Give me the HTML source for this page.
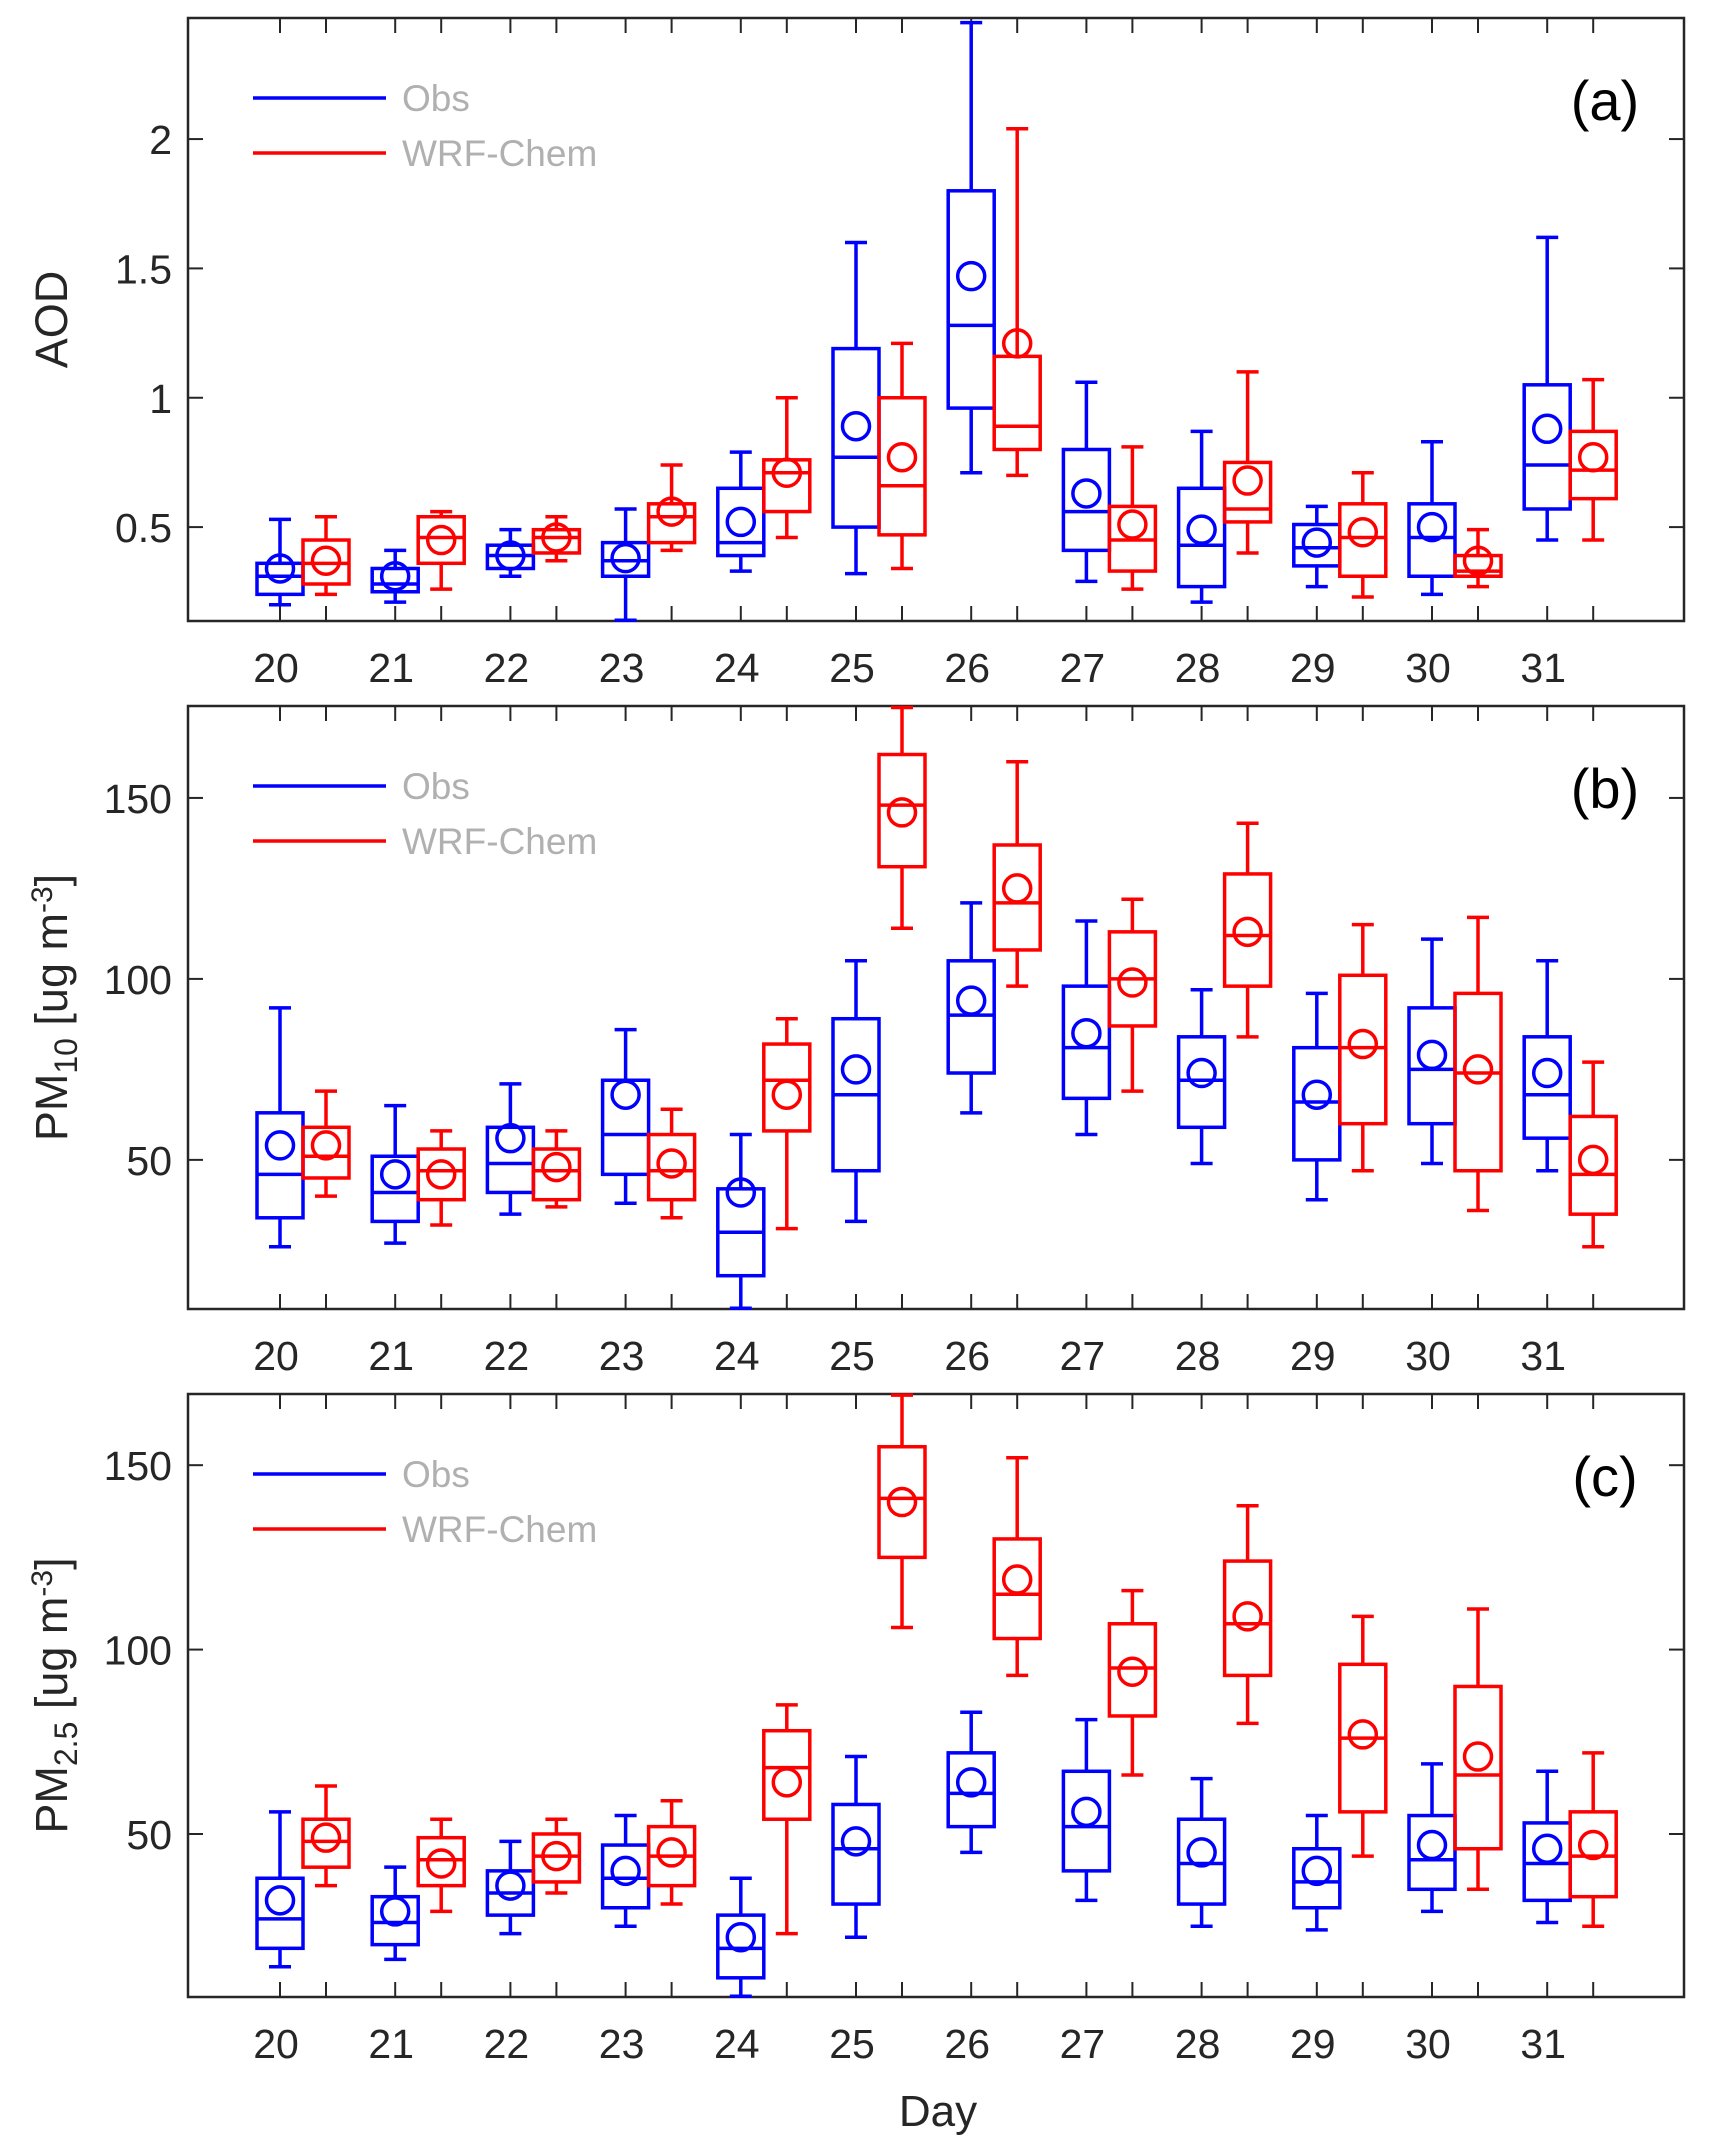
<!DOCTYPE html>
<html><head><meta charset="utf-8"><style>
html,body{margin:0;padding:0;background:#fff;}
svg{display:block;font-family:"Liberation Sans",sans-serif;}
</style></head><body>
<svg id="chart" width="1715" height="2151" viewBox="0 0 1715 2151" xmlns="http://www.w3.org/2000/svg"></svg>
<script>
// Categories
const days = [20,21,22,23,24,25,26,27,28,29,30,31];
// Each entry: [lowWhisker, q1, median, q3, highWhisker, mean]
const aodObs = [[0.2,0.24,0.31,0.36,0.53,0.34],[0.21,0.25,0.28,0.34,0.41,0.31],[0.31,0.34,0.39,0.43,0.49,0.39],[0.14,0.31,0.37,0.44,0.57,0.38],[0.33,0.39,0.44,0.65,0.79,0.52],[0.32,0.5,0.77,1.19,1.6,0.89],[0.71,0.96,1.28,1.8,2.45,1.47],[0.29,0.41,0.56,0.8,1.06,0.63],[0.21,0.27,0.43,0.65,0.87,0.49],[0.27,0.35,0.42,0.51,0.58,0.44],[0.24,0.31,0.46,0.59,0.83,0.5],[0.45,0.57,0.74,1.05,1.62,0.88]];
const aodWrf = [[0.24,0.28,0.36,0.45,0.54,0.37],[0.26,0.36,0.46,0.54,0.56,0.45],[0.37,0.4,0.46,0.49,0.54,0.46],[0.41,0.44,0.54,0.59,0.74,0.56],[0.46,0.56,0.71,0.76,1.0,0.71],[0.34,0.47,0.66,1.0,1.21,0.77],[0.7,0.8,0.89,1.16,2.04,1.21],[0.26,0.33,0.45,0.58,0.81,0.51],[0.4,0.52,0.57,0.75,1.1,0.68],[0.23,0.31,0.46,0.59,0.71,0.48],[0.27,0.31,0.33,0.39,0.49,0.37],[0.45,0.61,0.72,0.87,1.07,0.77]];
const pm10Obs = [[26,34,46,63,92,54],[27,33,41,51,65,46],[35,41,49,59,71,56],[38,46,57,72,86,68],[9,18,30,42,57,41],[33,47,68,89,105,75],[63,74,90,105,121,94],[57,67,81,98,116,85],[49,59,72,84,97,74],[39,50,66,81,96,68],[49,60,75,92,111,79],[47,56,68,84,105,74]];
const pm10Wrf = [[40,45,51,59,69,54],[32,39,47,53,58,46],[37,39,47,53,58,48],[34,39,47,57,64,49],[31,58,72,82,89,68],[114,131,148,162,175,146],[98,108,121,137,160,125],[69,87,100,113,122,99],[84,98,112,129,143,113],[47,60,81,101,115,82],[36,47,74,96,117,75],[26,35,46,62,77,50]];
const pm25Obs = [[14,19,27,38,56,32],[16,20,26,33,41,29],[23,28,34,40,48,36],[25,30,38,47,55,40],[6,11,19,28,38,22],[22,31,46,58,71,48],[45,52,61,72,83,64],[32,40,52,67,81,56],[25,31,42,54,65,45],[24,30,37,46,55,40],[29,35,43,55,69,47],[26,32,42,53,67,46]];
const pm25Wrf = [[36,41,48,54,63,49],[29,36,43,49,54,42],[34,37,44,50,54,44],[31,36,44,52,59,45],[23,54,68,78,85,64],[106,125,141,155,169,140],[93,103,115,130,152,119],[66,82,95,107,116,94],[80,93,107,124,139,109],[44,56,76,96,109,77],[35,46,66,90,111,71],[25,33,44,56,72,47]];
// Tick labels
const aodTicks = [0.5,1,1.5,2];
const aodTickLabels = ["0.5","1","1.5","2"];
const pmTicks = [50,100,150];
const pmTickLabels = ["50","100","150"];

const svg = document.getElementById('chart');
const NS = 'http://www.w3.org/2000/svg';
function mk(tag, attrs, parent){
  const e = document.createElementNS(NS, tag);
  for (const k in attrs) e.setAttribute(k, attrs[k]);
  (parent||svg).appendChild(e);
  return e;
}
const X0 = 188, X1 = 1684;
function xDay(i){ return 280 + i*115.2; }
const OFF = 46;

const panels = [
  {key:'aod', top:18, bot:621, ymin:0.137, ymax:2.468, obs:aodObs, wrf:aodWrf, ticks:aodTicks, tl:aodTickLabels, label:'(a)'},
  {key:'pm10', top:706, bot:1309, ymin:8.8, ymax:175.4, obs:pm10Obs, wrf:pm10Wrf, ticks:pmTicks, tl:pmTickLabels, label:'(b)'},
  {key:'pm25', top:1394, bot:1997, ymin:5.8, ymax:169.3, obs:pm25Obs, wrf:pm25Wrf, ticks:pmTicks, tl:pmTickLabels, label:'(c)'}
];

panels.forEach(p => {
  const g = mk('g', {});
  
  
  const y = v => p.bot - (v - p.ymin) / (p.ymax - p.ymin) * (p.bot - p.top);
  const frame = mk('rect', {x:X0, y:p.top, width:X1-X0, height:p.bot-p.top, fill:'none', stroke:'#262626', 'stroke-width':2.5}, g);
  
  
  p.ticks.forEach((t, i) => {
    const yy = y(t);
    mk('line', {x1:X0, x2:X0+15, y1:yy, y2:yy, stroke:'#262626', 'stroke-width':2}, g);
    mk('line', {x1:X1-15, x2:X1, y1:yy, y2:yy, stroke:'#262626', 'stroke-width':2}, g);
    const tx = mk('text', {x:X0-16, y:yy+15, 'text-anchor':'end', 'font-size':41, fill:'#262626'}, g);
    tx.textContent = p.tl[i];
    
    
  });
  days.forEach((d, i) => {
    [xDay(i), xDay(i)+OFF].forEach(xx => {
      mk('line', {x1:xx, x2:xx, y1:p.top, y2:p.top+15, stroke:'#262626', 'stroke-width':2}, g);
      mk('line', {x1:xx, x2:xx, y1:p.bot-15, y2:p.bot, stroke:'#262626', 'stroke-width':2}, g);
    });
    const tx = mk('text', {x:xDay(i)-4, y:p.bot+61, 'text-anchor':'middle', 'font-size':41, fill:'#262626'}, g);
    tx.textContent = d;
    
    
  });
  function drawBox(arr, i, xc, color, name){
    const [lo, q1, med, q3, hi, mean] = arr;
    const bg = mk('g', {stroke:color, 'stroke-width':3.5, fill:'none'}, g);
    
    
    const hw = 23, cw = 11;
    mk('line', {x1:xc, x2:xc, y1:y(hi), y2:y(q3)}, bg);
    mk('line', {x1:xc, x2:xc, y1:y(q1), y2:y(lo)}, bg);
    mk('line', {x1:xc-cw, x2:xc+cw, y1:y(hi), y2:y(hi)}, bg);
    mk('line', {x1:xc-cw, x2:xc+cw, y1:y(lo), y2:y(lo)}, bg);
    mk('rect', {x:xc-hw, y:y(q3), width:2*hw, height:y(q1)-y(q3)}, bg);
    mk('line', {x1:xc-hw, x2:xc+hw, y1:y(med), y2:y(med)}, bg);
    mk('circle', {cx:xc, cy:y(mean), r:13.5}, bg);
  }
  days.forEach((d, i) => {
    drawBox(p.obs[i], i, xDay(i), '#0000ff', 'obs');
    drawBox(p.wrf[i], i, xDay(i)+OFF, '#ff0000', 'wrf');
  });
  const lg = mk('g', {}, g);
  
  
  const ly = p.top + 80;
  mk('line', {x1:253, x2:386, y1:ly, y2:ly, stroke:'#0000ff', 'stroke-width':3.5}, lg);
  mk('line', {x1:253, x2:386, y1:ly+55, y2:ly+55, stroke:'#ff0000', 'stroke-width':3.5}, lg);
  const t1 = mk('text', {x:402, y:ly+13, 'font-size':37, fill:'#b0b0b0'}, lg); t1.textContent = 'Obs';
  const t2 = mk('text', {x:402, y:ly+68, 'font-size':37, fill:'#b0b0b0'}, lg); t2.textContent = 'WRF-Chem';
  const pl = mk('text', {x:1605, y:p.top+102, 'text-anchor':'middle', 'font-size':56, fill:'#000'}, g);
  pl.textContent = p.label;
  
  
  const cy = (p.top + p.bot) / 2;
  const yt = mk('text', {x:0, y:0, 'text-anchor':'middle', 'font-size':45, fill:'#262626', transform:'translate(67,'+cy+') rotate(-90)'}, g);
  
  
  if (p.key === 'aod') {
    yt.textContent = 'AOD';
  } else {
    const sub = p.key === 'pm10' ? '10' : '2.5';
    yt.innerHTML = '<tspan>PM</tspan><tspan font-size="32" dy="10">' + sub + '</tspan><tspan dy="-10"> [ug m</tspan><tspan font-size="30" dy="-15">-3</tspan><tspan dy="15">]</tspan>';
  }
});
const xt = mk('text', {x:938, y:2126, 'text-anchor':'middle', 'font-size':44, fill:'#262626'});
xt.textContent = 'Day';


</script>
</body></html>
